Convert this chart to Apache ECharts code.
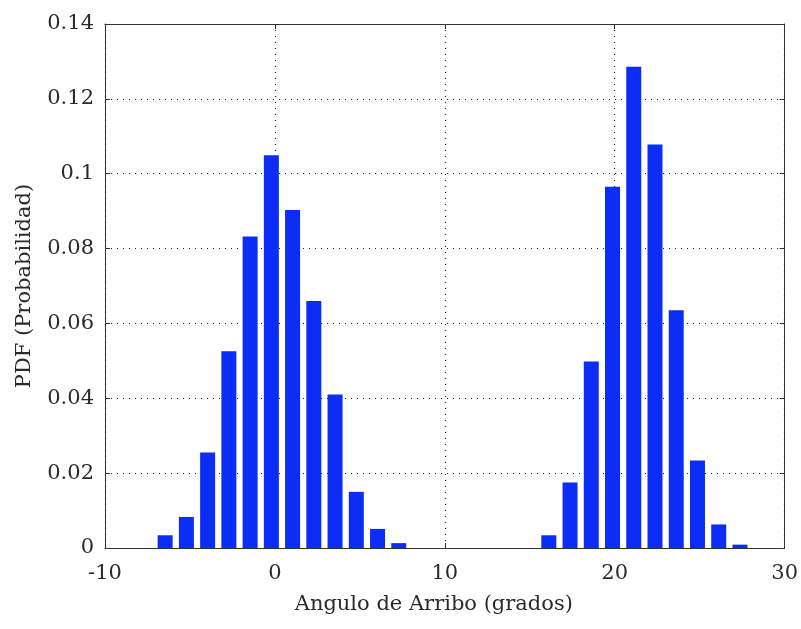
<!DOCTYPE html>
<html>
<head>
<meta charset="utf-8">
<script src="https://cdn.jsdelivr.net/npm/echarts@6/dist/echarts.min.js"></script>
<style>html,body{margin:0;padding:0;background:#fff}#c{width:801px;height:629px}</style>
</head>
<body>
<div id="c"></div>
<script>
// Data
const leftCenters  = [-6.46, -5.21, -3.96, -2.71, -1.46, -0.21, 1.04, 2.29, 3.54, 4.79, 6.04, 7.29];
const leftValues   = [0.0034, 0.0083, 0.0255, 0.0526, 0.0832, 0.1049, 0.0903, 0.0660, 0.0410, 0.0150, 0.0051, 0.0013];
const rightCenters = [16.12, 17.37, 18.62, 19.87, 21.12, 22.37, 23.62, 24.87, 26.12, 27.37];
const rightValues  = [0.0034, 0.0175, 0.0498, 0.0965, 0.1286, 0.1078, 0.0635, 0.0234, 0.0063, 0.0009];
const xTicks = [-10, 0, 10, 20, 30];
const yTicks = [0, 0.02, 0.04, 0.06, 0.08, 0.1, 0.12, 0.14];
const xLabel = 'Angulo de Arribo (grados)';
const yLabel = 'PDF (Probabilidad)';

const font = 'DejaVu Serif';
const txt = '#2a2a2a';
const barColor = '#0b2df5';

const data = leftCenters.map((x, i) => [x, leftValues[i]])
  .concat(rightCenters.map((x, i) => [x, rightValues[i]]));

const chart = echarts.init(document.getElementById('c'), null, {renderer: 'canvas'});
const axisLine = {show: true, onZero: false, lineStyle: {color: '#333', width: 1}};
const tick = {show: true, inside: true, length: 5, lineStyle: {color: '#333'}};
const grid = {show: true, lineStyle: {color: '#222', type: [1, 5], width: 1.2}};
chart.setOption({
  animation: false,
  backgroundColor: '#fff',
  grid: {left: 105, right: 16, top: 24, bottom: 81},
  xAxis: [{
    type: 'value', min: xTicks[0], max: xTicks[xTicks.length - 1], interval: 10,
    position: 'bottom',
    axisLine, axisTick: tick, splitLine: grid,
    axisLabel: {color: txt, fontFamily: font, fontSize: 21, margin: 15},
    name: xLabel, nameLocation: 'middle', nameGap: 46,
    nameTextStyle: {color: txt, fontFamily: font, fontSize: 21, verticalAlign: 'top', padding: [0, 22, 0, 0]}
  }, {
    type: 'value', min: xTicks[0], max: xTicks[xTicks.length - 1], interval: 10,
    position: 'top',
    axisLine, axisTick: tick, splitLine: {show: false}, axisLabel: {show: false}
  }],
  yAxis: [{
    type: 'value', min: yTicks[0], max: yTicks[yTicks.length - 1], interval: 0.02,
    position: 'left',
    axisLine, axisTick: tick, splitLine: grid,
    axisLabel: {color: txt, fontFamily: font, fontSize: 21, margin: 11,
      formatter: v => String(+v.toFixed(2))},
    name: yLabel, nameLocation: 'middle', nameGap: 70,
    nameTextStyle: {color: txt, fontFamily: font, fontSize: 21}
  }, {
    type: 'value', min: yTicks[0], max: yTicks[yTicks.length - 1], interval: 0.02,
    position: 'right',
    axisLine, axisTick: tick, splitLine: {show: false}, axisLabel: {show: false}
  }],
  series: [{
    type: 'bar', xAxisIndex: 0, yAxisIndex: 0,
    data: data, barWidth: 15,
    itemStyle: {color: barColor},
    z: 3
  }]
});
</script>
</body>
</html>
